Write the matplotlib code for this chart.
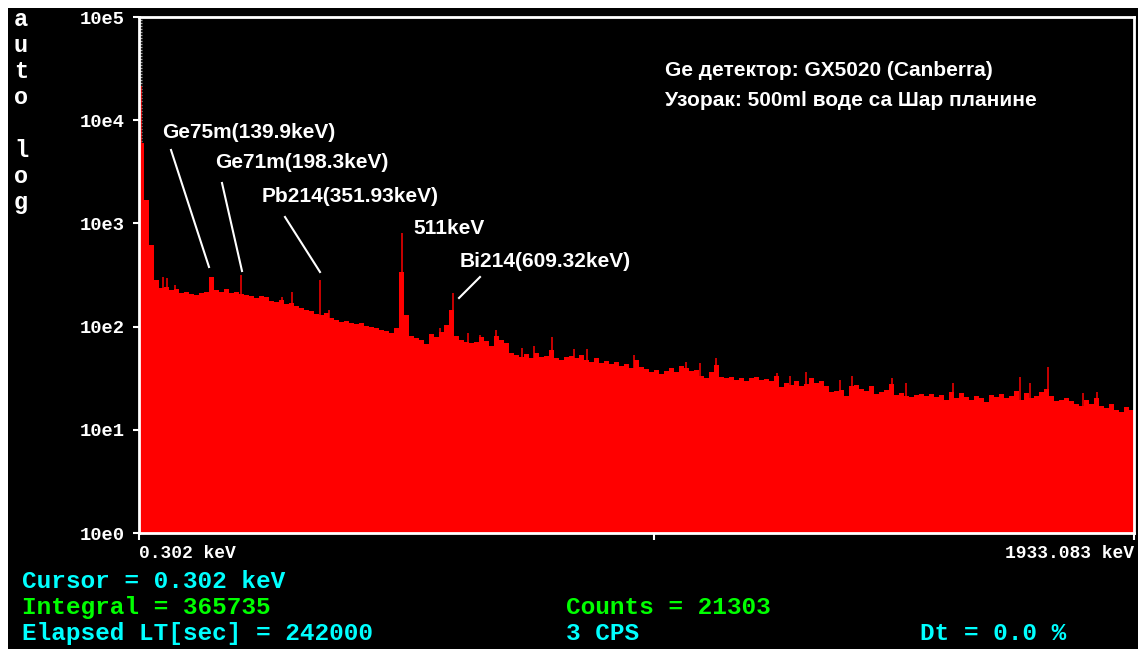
import numpy as np
import matplotlib
matplotlib.use('Agg')
import matplotlib.pyplot as plt
from matplotlib.patches import Rectangle
from matplotlib.lines import Line2D
from matplotlib.ticker import FixedLocator, NullFormatter

# ---------------- data ----------------
E_MIN = 0.302
E_MAX = 1933.083
E_MID_TICK = 1000.0

# coarse continuum (equal-width energy bins from E_MIN to E_MAX)
counts = [6000, 1690, 620, 283, 236, 241, 226, 230, 211, 216,
          206, 202, 211, 216, 301, 226, 216, 230, 211, 216,
          206, 202, 197, 188, 197, 193, 177, 173, 181, 165,
          169, 158, 151, 145, 141, 132, 129, 135, 121, 116,
          110, 113, 108, 106, 108, 101, 99, 97, 93, 91,
          87, 97, 338, 129, 81, 78, 74, 68, 85, 79,
          89, 104, 145, 81, 74, 71, 69, 71, 79, 72,
          65, 81, 74, 69, 55, 53, 51, 54, 50, 55,
          51, 52, 59, 50, 47.5, 51, 52, 50, 53, 47.5,
          45.5, 50, 44.5, 46.5, 43.4, 45.5, 41.4, 43.4, 39.6, 47.5,
          40.5, 38.8, 36.3, 38, 34.7, 37.1, 39.6, 36.3, 41.4, 39.6,
          37.1, 38, 33.2, 31.8, 36.3, 42.4, 32.5, 31.8, 32.5, 30.4,
          31.8, 29.7, 31.8, 32.5, 30.4, 31.1, 29.7, 33.2, 26, 28.4,
          27.2, 29.7, 26.6, 27.8, 31.8, 28.4, 29.7, 26.6, 23.2, 23.7,
          24.3, 21.2, 26.6, 27.2, 24.9, 23.7, 26.6, 22.2, 23.2, 24.3,
          27.8, 21.7, 22.7, 21.2, 20.7, 21.7, 22.2, 21.2, 22.2, 20.7,
          21.7, 19.5, 23.2, 20.3, 22.7, 20.7, 19.5, 21.2, 20.3, 18.6,
          21.7, 20.7, 22.2, 20.3, 21.2, 23.7, 19.5, 22.7, 20.3, 21.2,
          23.2, 24.9, 21.2, 18.9, 19.5, 20.3, 18.9, 17.8, 17.0, 19.5,
          17.8, 20.3, 17.0, 16.3, 17.8, 15.6, 14.9, 16.7, 15.6]

# narrow single-channel spikes (keV, counts)
spike_energy = [5.0, 46.6, 54.4, 70.0, 198.3, 277.8, 297.2, 351.93, 369.0, 511.0,
                609.32, 585, 639, 662, 693, 744, 767, 802, 845, 870,
                961, 1062, 1090, 1121, 1239, 1264, 1295, 1362, 1385, 1463,
                1490, 1581, 1711, 1731, 1766, 1834, 1861]
spike_counts = [21303, 301, 295, 253, 316, 193, 216, 283, 145, 807,
                211, 97, 87, 83, 93, 62, 65, 79, 61, 61,
                53, 45.5, 44.5, 50, 35.5, 33.2, 36.3, 30.4, 33.2, 31.8,
                28.4, 28.4, 32.5, 28.4, 40.5, 22.7, 23.2]

ytick_values = [1, 10, 100, 1000, 10000, 100000]
ytick_labels = ['10e0', '10e1', '10e2', '10e3', '10e4', '10e5']
xtick_values = [E_MIN, E_MID_TICK, E_MAX]
xtick_labels = ['0.302 keV', '', '1933.083 keV']

peak_names = ['Ge75m(139.9keV)', 'Ge71m(198.3keV)', 'Pb214(351.93keV)',
              '511keV', 'Bi214(609.32keV)']
info_lines = ['Ge детектор: GX5020 (Canberra)',
              'Узорак: 500ml воде са Шар планине']
status_texts = ['Cursor = 0.302 keV', 'Integral = 365735',
                'Elapsed LT[sec] = 242000', 'Counts = 21303',
                '3 CPS', 'Dt = 0.0 %']
side_letters = ['a', 'u', 't', 'o', 'l', 'o', 'g']

# ---------------- layout ----------------
W, H = 1138, 649
RED = '#FF0000'
CYAN = '#00FFFF'
GREEN = '#00FF00'
SANS = ['Liberation Sans', 'DejaVu Sans']
MONO = ['Liberation Mono', 'DejaVu Sans Mono']

def fx(x):
    return x / W

def fy(y):
    return 1 - y / H

fig = plt.figure(figsize=(W / 100, H / 100), dpi=100, facecolor='white')
fig.add_artist(Rectangle((fx(8), 0), 1 - fx(8), fy(8), transform=fig.transFigure,
                         facecolor='black', edgecolor='none', zorder=-10))

L, R, T, B = 139, 1134, 17, 533
ax = fig.add_axes([fx(L), fy(B), fx(R) - fx(L), fy(T) - fy(B)])
ax.set_facecolor('black')
ax.set_yscale('log')
ax.set_xlim(E_MIN, E_MAX)
ax.set_ylim(1, 1e5)

edges = np.linspace(E_MIN, E_MAX, len(counts) + 1)
ax.stairs(counts, edges, fill=True, baseline=1, color=RED, zorder=2)
ax.vlines(spike_energy, 1, spike_counts, colors=RED, linewidth=1.1, zorder=2)

for s in ax.spines.values():
    s.set_color('white')
    s.set_linewidth(2)
    s.set_zorder(5)

ax.yaxis.set_major_locator(FixedLocator(ytick_values))
ax.set_yticklabels(ytick_labels)
ax.yaxis.set_minor_locator(FixedLocator(np.logspace(0, 5, 172)))
ax.yaxis.set_minor_formatter(NullFormatter())
ax.tick_params(axis='y', which='major', direction='out', length=4.5, width=1.5,
               colors='white', pad=6)
ax.tick_params(axis='y', which='minor', direction='in', length=2.0, width=1.0,
               colors='#B0B0B0')
for lab in ax.get_yticklabels():
    lab.set_fontfamily(MONO)
    lab.set_fontweight('bold')
    lab.set_fontsize(13.5)

ax.xaxis.set_major_locator(FixedLocator(xtick_values))
ax.set_xticklabels(xtick_labels)
ax.xaxis.set_minor_locator(FixedLocator([]))
ax.tick_params(axis='x', which='major', direction='out', length=5, width=1.5,
               colors='white', pad=4)
xl = ax.get_xticklabels()
for lab in xl:
    lab.set_fontfamily(MONO)
    lab.set_fontweight('bold')
    lab.set_fontsize(13)
xl[0].set_ha('left')
xl[-1].set_ha('right')

# side vertical "auto log"
side_base = [26, 52, 78, 104, 157, 183, 209]
for ch, yb in zip(side_letters, side_base):
    fig.text(fx(21), fy(yb), ch, color='white', fontfamily=MONO, fontweight='bold',
             fontsize=17, ha='center', va='baseline')

# peak annotations
ann_layout = [(162, 132, (171, 150), (209, 267)),
              (215, 163, (222, 183), (242, 271)),
              (262, 196, (285, 217), (320, 272)),
              (413, 228, None, None),
              (460, 262, (480, 277), (459, 298))]
for name, (tx, ty, p0, p1) in zip(peak_names, ann_layout):
    fig.text(fx(tx), fy(ty), name, color='white', fontfamily=SANS, fontweight='bold',
             fontsize=15, ha='left', va='center')
    if p0 is not None:
        fig.add_artist(Line2D([fx(p0[0]), fx(p1[0])], [fy(p0[1]), fy(p1[1])],
                              transform=fig.transFigure, color='white', linewidth=1.5))

# info text (top right)
for line, ty in zip(info_lines, [70, 100]):
    fig.text(fx(665), fy(ty), line, color='white', fontfamily=SANS, fontweight='bold',
             fontsize=15, ha='left', va='center')

# status area
status_layout = [(22, 588, CYAN), (22, 614, GREEN), (22, 640, CYAN),
                 (566, 614, GREEN), (566, 640, CYAN), (920, 640, CYAN)]
for txt, (tx, ty, col) in zip(status_texts, status_layout):
    fig.text(fx(tx), fy(ty), txt, color=col, fontfamily=MONO, fontweight='bold',
             fontsize=17.6, ha='left', va='baseline')

fig.savefig('out.png', dpi=100, facecolor=fig.get_facecolor())
